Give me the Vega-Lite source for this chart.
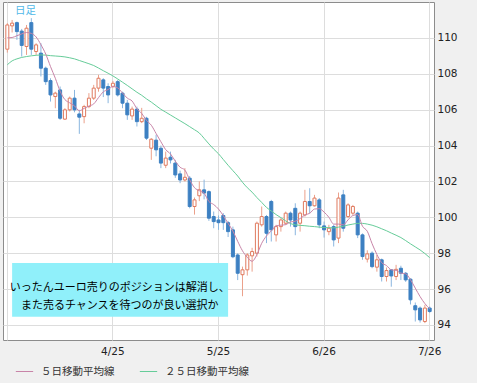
{
  "$schema": "https://vega.github.io/schema/vega-lite/v6.json",
  "width": 431,
  "height": 338,
  "autosize": {"type": "none"},
  "padding": {"left": 3, "top": 2, "right": 43, "bottom": 43},
  "background": "#f0f0f0",
  "config": {
    "view": {"fill": "white", "stroke": "#8c8c8c", "strokeWidth": 1},
    "font": "DejaVu Sans"
  },
  "title": {
    "text": "日足",
    "anchor": "start",
    "frame": "group",
    "orient": "top",
    "offset": -14,
    "dx": 12,
    "font": "Noto Sans CJK JP",
    "fontSize": 10.5,
    "fontWeight": "normal",
    "color": "#4fb8e8"
  },
  "data": {
    "values": [
      {"d": "3/26", "o": 109.37, "h": 110.82, "l": 109.18, "c": 110.72, "m5": 110.0, "m25": 108.5},
      {"d": "3/27", "o": 110.67, "h": 111.0, "l": 110.3, "c": 110.82, "m5": 110.02, "m25": 108.72},
      {"d": "3/28", "o": 110.85, "h": 110.91, "l": 109.89, "c": 110.35, "m5": 110.12, "m25": 108.83},
      {"d": "3/29", "o": 110.38, "h": 110.5, "l": 108.96, "c": 109.58, "m5": 110.22, "m25": 108.91},
      {"d": "3/30", "o": 109.52, "h": 110.72, "l": 109.05, "c": 110.54, "m5": 110.3, "m25": 108.96},
      {"d": "4/2", "o": 110.85, "h": 111.1, "l": 109.05, "c": 109.37, "m5": 110.25, "m25": 109.0},
      {"d": "4/3", "o": 109.24, "h": 109.7, "l": 109.05, "c": 109.61, "m5": 110.05, "m25": 109.03},
      {"d": "4/4", "o": 109.15, "h": 109.7, "l": 107.85, "c": 108.31, "m5": 109.62, "m25": 109.05},
      {"d": "4/5", "o": 108.31, "h": 108.4, "l": 107.38, "c": 107.56, "m5": 109.1, "m25": 109.04},
      {"d": "4/6", "o": 107.62, "h": 107.75, "l": 106.45, "c": 106.82, "m5": 108.4, "m25": 109.01},
      {"d": "4/9", "o": 106.73, "h": 107.0, "l": 106.08, "c": 106.92, "m5": 107.75, "m25": 108.99},
      {"d": "4/10", "o": 107.1, "h": 107.29, "l": 105.43, "c": 105.52, "m5": 107.03, "m25": 108.97},
      {"d": "4/11", "o": 105.47, "h": 106.08, "l": 105.43, "c": 105.99, "m5": 106.56, "m25": 108.94},
      {"d": "4/12", "o": 105.99, "h": 106.73, "l": 105.9, "c": 106.64, "m5": 106.38, "m25": 108.89},
      {"d": "4/13", "o": 106.64, "h": 107.1, "l": 105.85, "c": 105.99, "m5": 106.21, "m25": 108.83},
      {"d": "4/16", "o": 105.76, "h": 105.99, "l": 104.65, "c": 105.58, "m5": 105.94, "m25": 108.74},
      {"d": "4/17", "o": 105.61, "h": 106.27, "l": 105.24, "c": 106.17, "m5": 106.07, "m25": 108.65},
      {"d": "4/18", "o": 106.17, "h": 106.92, "l": 106.08, "c": 106.64, "m5": 106.2, "m25": 108.56},
      {"d": "4/19", "o": 106.64, "h": 107.38, "l": 106.54, "c": 107.2, "m5": 106.32, "m25": 108.46},
      {"d": "4/20", "o": 107.2, "h": 107.94, "l": 107.0, "c": 107.75, "m5": 106.67, "m25": 108.32},
      {"d": "4/23", "o": 107.66, "h": 107.75, "l": 106.7, "c": 107.2, "m5": 106.99, "m25": 108.17},
      {"d": "4/24", "o": 107.29, "h": 107.47, "l": 106.36, "c": 106.82, "m5": 107.12, "m25": 108.03},
      {"d": "4/25", "o": 107.3, "h": 107.6, "l": 107.2, "c": 107.47, "m5": 107.29, "m25": 107.88},
      {"d": "4/26", "o": 107.56, "h": 107.66, "l": 106.73, "c": 106.82, "m5": 107.21, "m25": 107.71},
      {"d": "4/27", "o": 106.92, "h": 107.0, "l": 106.08, "c": 106.36, "m5": 106.93, "m25": 107.53},
      {"d": "4/30", "o": 106.36, "h": 106.54, "l": 105.43, "c": 105.71, "m5": 106.64, "m25": 107.35},
      {"d": "5/1", "o": 105.65, "h": 106.17, "l": 105.43, "c": 106.03, "m5": 106.48, "m25": 107.16},
      {"d": "5/2", "o": 106.03, "h": 106.17, "l": 105.06, "c": 105.33, "m5": 106.05, "m25": 106.97},
      {"d": "5/3", "o": 105.33, "h": 106.1, "l": 105.25, "c": 105.52, "m5": 105.79, "m25": 106.8},
      {"d": "5/4", "o": 105.52, "h": 105.6, "l": 104.31, "c": 104.41, "m5": 105.4, "m25": 106.6},
      {"d": "5/7", "o": 103.85, "h": 104.41, "l": 103.2, "c": 104.35, "m5": 105.13, "m25": 106.42},
      {"d": "5/8", "o": 104.3, "h": 104.6, "l": 103.4, "c": 103.76, "m5": 104.67, "m25": 106.22},
      {"d": "5/9", "o": 103.85, "h": 104.0, "l": 102.74, "c": 103.02, "m5": 104.21, "m25": 106.02},
      {"d": "5/10", "o": 102.9, "h": 103.66, "l": 102.74, "c": 103.3, "m5": 103.77, "m25": 105.86},
      {"d": "5/11", "o": 103.35, "h": 103.66, "l": 103.0, "c": 103.2, "m5": 103.53, "m25": 105.7},
      {"d": "5/14", "o": 103.02, "h": 103.2, "l": 102.2, "c": 102.36, "m5": 103.13, "m25": 105.54},
      {"d": "5/15", "o": 102.42, "h": 102.6, "l": 101.9, "c": 102.08, "m5": 102.79, "m25": 105.38},
      {"d": "5/16", "o": 102.08, "h": 102.74, "l": 101.99, "c": 102.23, "m5": 102.63, "m25": 105.22},
      {"d": "5/17", "o": 102.18, "h": 102.3, "l": 100.5, "c": 100.6, "m5": 102.09, "m25": 105.05},
      {"d": "5/18", "o": 100.6, "h": 101.1, "l": 100.15, "c": 100.97, "m5": 101.65, "m25": 104.88},
      {"d": "5/21", "o": 101.2, "h": 102.0, "l": 100.9, "c": 101.53, "m5": 101.48, "m25": 104.7},
      {"d": "5/22", "o": 101.53, "h": 102.1, "l": 101.0, "c": 101.35, "m5": 101.34, "m25": 104.4},
      {"d": "5/23", "o": 101.43, "h": 101.5, "l": 99.8, "c": 99.95, "m5": 100.88, "m25": 104.09},
      {"d": "5/24", "o": 100.04, "h": 100.32, "l": 99.39, "c": 99.76, "m5": 100.71, "m25": 103.8},
      {"d": "5/25", "o": 99.85, "h": 100.1, "l": 99.3, "c": 99.7, "m5": 100.46, "m25": 103.54},
      {"d": "5/28", "o": 100.1, "h": 100.23, "l": 99.3, "c": 99.7, "m5": 100.09, "m25": 103.22},
      {"d": "5/29", "o": 99.7, "h": 99.8, "l": 98.9, "c": 99.2, "m5": 99.66, "m25": 102.9},
      {"d": "5/30", "o": 99.3, "h": 99.48, "l": 97.72, "c": 97.8, "m5": 99.23, "m25": 102.6},
      {"d": "5/31", "o": 97.9, "h": 98.0, "l": 96.5, "c": 96.88, "m5": 98.66, "m25": 102.3},
      {"d": "6/1", "o": 96.8, "h": 97.25, "l": 95.6, "c": 97.07, "m5": 98.13, "m25": 101.95},
      {"d": "6/4", "o": 97.07, "h": 98.0, "l": 96.75, "c": 97.9, "m5": 97.77, "m25": 101.65},
      {"d": "6/5", "o": 97.85, "h": 98.3, "l": 96.97, "c": 98.09, "m5": 97.55, "m25": 101.4},
      {"d": "6/6", "o": 98.0, "h": 99.76, "l": 97.81, "c": 99.67, "m5": 97.92, "m25": 101.1},
      {"d": "6/7", "o": 99.58, "h": 100.6, "l": 99.48, "c": 100.04, "m5": 98.55, "m25": 100.83},
      {"d": "6/8", "o": 100.04, "h": 100.13, "l": 98.56, "c": 99.11, "m5": 98.96, "m25": 100.55},
      {"d": "6/11", "o": 100.88, "h": 100.97, "l": 98.65, "c": 99.3, "m5": 99.24, "m25": 100.35},
      {"d": "6/12", "o": 99.02, "h": 99.58, "l": 98.65, "c": 99.48, "m5": 99.52, "m25": 100.15},
      {"d": "6/13", "o": 99.48, "h": 99.95, "l": 99.2, "c": 99.85, "m5": 99.56, "m25": 99.98},
      {"d": "6/14", "o": 99.67, "h": 100.32, "l": 99.58, "c": 100.23, "m5": 99.59, "m25": 99.8},
      {"d": "6/15", "o": 100.23, "h": 100.32, "l": 99.48, "c": 99.85, "m5": 99.74, "m25": 99.65},
      {"d": "6/18", "o": 100.5, "h": 100.78, "l": 99.0, "c": 99.48, "m5": 99.78, "m25": 99.58},
      {"d": "6/19", "o": 99.67, "h": 100.32, "l": 99.2, "c": 100.23, "m5": 99.93, "m25": 99.55},
      {"d": "6/20", "o": 100.13, "h": 101.53, "l": 100.04, "c": 100.88, "m5": 100.13, "m25": 99.53},
      {"d": "6/21", "o": 100.88, "h": 101.62, "l": 100.23, "c": 100.64, "m5": 100.22, "m25": 99.5},
      {"d": "6/22", "o": 100.64, "h": 101.25, "l": 100.6, "c": 101.07, "m5": 100.46, "m25": 99.48},
      {"d": "6/25", "o": 100.97, "h": 101.07, "l": 99.39, "c": 99.58, "m5": 100.48, "m25": 99.45},
      {"d": "6/26", "o": 99.52, "h": 99.76, "l": 98.87, "c": 99.3, "m5": 100.29, "m25": 99.43},
      {"d": "6/27", "o": 99.2, "h": 99.58, "l": 99.0, "c": 99.39, "m5": 100.0, "m25": 99.42},
      {"d": "6/28", "o": 99.48, "h": 99.58, "l": 98.37, "c": 98.74, "m5": 99.62, "m25": 99.41},
      {"d": "6/29", "o": 98.84, "h": 101.38, "l": 98.56, "c": 101.07, "m5": 99.62, "m25": 99.45},
      {"d": "7/2", "o": 101.25, "h": 101.53, "l": 99.2, "c": 99.39, "m5": 99.58, "m25": 99.5},
      {"d": "7/3", "o": 100.04, "h": 100.78, "l": 99.95, "c": 100.69, "m5": 99.86, "m25": 99.57},
      {"d": "7/4", "o": 100.23, "h": 100.69, "l": 100.13, "c": 100.6, "m5": 100.1, "m25": 99.62},
      {"d": "7/5", "o": 100.23, "h": 100.32, "l": 98.84, "c": 99.02, "m5": 100.15, "m25": 99.66},
      {"d": "7/6", "o": 99.02, "h": 99.1, "l": 97.63, "c": 97.81, "m5": 99.5, "m25": 99.66},
      {"d": "7/9", "o": 97.67, "h": 98.16, "l": 97.48, "c": 97.96, "m5": 99.22, "m25": 99.62},
      {"d": "7/10", "o": 98.0, "h": 98.1, "l": 97.16, "c": 97.25, "m5": 98.53, "m25": 99.56},
      {"d": "7/11", "o": 97.22, "h": 97.9, "l": 96.97, "c": 97.63, "m5": 97.93, "m25": 99.47},
      {"d": "7/12", "o": 97.63, "h": 97.7, "l": 96.42, "c": 96.7, "m5": 97.47, "m25": 99.36},
      {"d": "7/13", "o": 96.7, "h": 97.2, "l": 96.42, "c": 97.03, "m5": 97.31, "m25": 99.25},
      {"d": "7/16", "o": 97.07, "h": 97.1, "l": 96.13, "c": 96.73, "m5": 97.07, "m25": 99.12},
      {"d": "7/17", "o": 96.7, "h": 97.35, "l": 96.5, "c": 97.1, "m5": 97.04, "m25": 99.0},
      {"d": "7/18", "o": 97.16, "h": 97.3, "l": 96.5, "c": 96.88, "m5": 96.89, "m25": 98.87},
      {"d": "7/19", "o": 96.88, "h": 96.95, "l": 96.4, "c": 96.51, "m5": 96.85, "m25": 98.7},
      {"d": "7/20", "o": 96.55, "h": 96.6, "l": 95.14, "c": 95.4, "m5": 96.52, "m25": 98.52},
      {"d": "7/23", "o": 95.07, "h": 95.25, "l": 94.19, "c": 94.84, "m5": 96.05, "m25": 98.35},
      {"d": "7/24", "o": 94.94, "h": 95.03, "l": 94.13, "c": 94.28, "m5": 95.58, "m25": 98.18},
      {"d": "7/25", "o": 94.19, "h": 95.12, "l": 94.1, "c": 94.94, "m5": 95.19, "m25": 97.98},
      {"d": "7/26", "o": 94.94, "h": 95.03, "l": 94.66, "c": 94.75, "m5": 94.9, "m25": 97.75}
    ]
  },
  "encoding": {
    "x": {
      "field": "d",
      "type": "ordinal",
      "scale": {
        "type": "band",
        "paddingInner": 0,
        "paddingOuter": 0.4,
        "domain": ["3/26","3/27","3/28","3/29","3/30","4/2","4/3","4/4","4/5","4/6","4/9","4/10","4/11","4/12","4/13","4/16","4/17","4/18","4/19","4/20","4/23","4/24","4/25","4/26","4/27","4/30","5/1","5/2","5/3","5/4","5/7","5/8","5/9","5/10","5/11","5/14","5/15","5/16","5/17","5/18","5/21","5/22","5/23","5/24","5/25","5/28","5/29","5/30","5/31","6/1","6/4","6/5","6/6","6/7","6/8","6/11","6/12","6/13","6/14","6/15","6/18","6/19","6/20","6/21","6/22","6/25","6/26","6/27","6/28","6/29","7/2","7/3","7/4","7/5","7/6","7/9","7/10","7/11","7/12","7/13","7/16","7/17","7/18","7/19","7/20","7/23","7/24","7/25","7/26"]
      },
      "axis": {
        "values": ["3/26", "4/25", "5/25", "6/26", "7/26"],
        "labelExpr": "datum.value == '3/26' ? '' : datum.value",
        "grid": true,
        "gridColor": "#dddddd",
        "bandPosition": 0.5,
        "domain": false,
        "ticks": false,
        "labelAngle": 0,
        "labelPadding": 6,
        "labelFlush": false,
        "labelFont": "DejaVu Sans",
        "labelFontSize": 10.5,
        "labelColor": "#222222",
        "title": null
      }
    }
  },
  "layer": [
    {
      "mark": {"type": "rule", "strokeWidth": 1},
      "encoding": {
        "y": {
          "field": "l",
          "type": "quantitative",
          "scale": {"domain": [93.16, 112.0], "nice": false, "zero": false},
          "axis": {
            "orient": "right",
            "values": [94, 96, 98, 100, 102, 104, 106, 108, 110],
            "grid": true,
            "gridColor": "#dddddd",
            "domain": false,
            "ticks": false,
            "labelPadding": 3,
            "labelFont": "DejaVu Sans",
            "labelFontSize": 10.5,
            "labelColor": "#222222",
            "title": null
          }
        },
        "y2": {"field": "h"},
        "stroke": {"condition": {"test": "datum.c >= datum.o", "value": "#eba08a"}, "value": "#8ab6df"}
      }
    },
    {
      "mark": {"type": "bar", "width": 3, "strokeWidth": 1},
      "encoding": {
        "y": {"field": "o", "type": "quantitative"},
        "y2": {"field": "c"},
        "fill": {"condition": {"test": "datum.c >= datum.o", "value": "#ffffff"}, "value": "#3d80c2"},
        "stroke": {"condition": {"test": "datum.c >= datum.o", "value": "#e07a5f"}, "value": "#3d80c2"}
      }
    },
    {
      "mark": {"type": "line", "strokeWidth": 1, "interpolate": "monotone"},
      "encoding": {
        "y": {"field": "m25", "type": "quantitative"},
        "color": {
          "datum": "２５日移動平均線",
          "type": "nominal",
          "scale": {"domain": ["５日移動平均線", "２５日移動平均線"], "range": ["#c884a8", "#66cc99"]},
          "legend": {
            "orient": "none",
            "legendX": 12,
            "legendY": 360,
            "direction": "horizontal",
            "title": null,
            "symbolType": "stroke",
            "symbolSize": 300,
            "symbolStrokeWidth": 1,
            "labelFont": "Noto Sans CJK JP",
            "labelFontSize": 10.5,
            "labelColor": "#333333",
            "labelOffset": 7,
            "columnPadding": 22
          }
        }
      }
    },
    {
      "mark": {"type": "line", "strokeWidth": 1, "interpolate": "monotone"},
      "encoding": {
        "y": {"field": "m5", "type": "quantitative"},
        "color": {"datum": "５日移動平均線", "type": "nominal"}
      }
    },
    {
      "data": {"values": [{"a": "3/27", "b": "5/29", "top": 97.45, "bottom": 94.45}]},
      "mark": {"type": "rect", "fill": "#90f0fa"},
      "encoding": {
        "x": {"field": "a", "type": "ordinal"},
        "x2": {"field": "b"},
        "y": {"field": "top", "type": "quantitative"},
        "y2": {"field": "bottom"}
      }
    },
    {
      "data": {"values": [{"a": "4/26", "v": 96.06, "t": "いったんユーロ売りのポジションは解消し、\nまた売るチャンスを待つのが良い選択か"}]},
      "mark": {"type": "text", "lineBreak": "\n", "font": "Noto Sans CJK JP", "fontSize": 11, "lineHeight": 18, "align": "center", "baseline": "middle", "dx": 2, "color": "#000000"},
      "encoding": {
        "x": {"field": "a", "type": "ordinal"},
        "y": {"field": "v", "type": "quantitative"},
        "text": {"field": "t"}
      }
    }
  ]
}
